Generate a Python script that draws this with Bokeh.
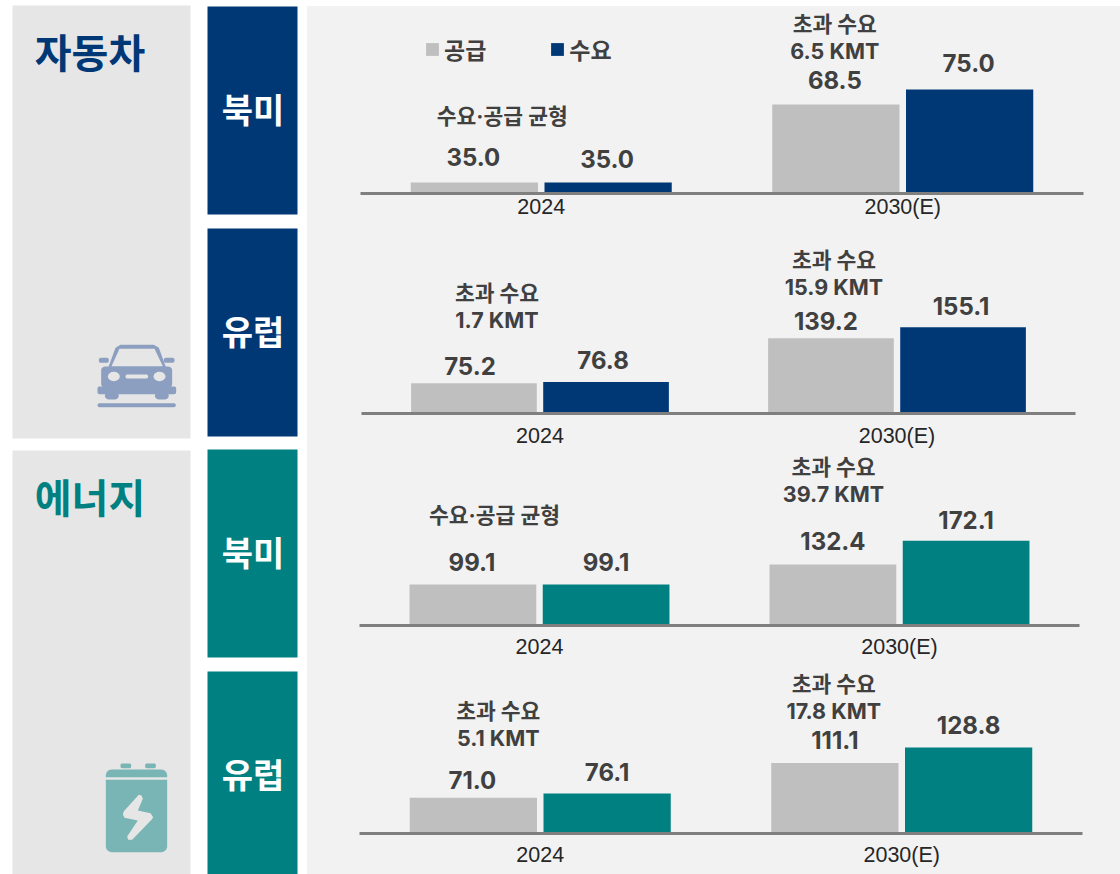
from bokeh.plotting import figure
from bokeh.layouts import row, column
from bokeh.models import ColumnDataSource, FactorRange, Range1d, Legend, LegendItem
from bokeh.transform import dodge
from bokeh.core.properties import value
from bokeh.embed import file_html
from bokeh.resources import INLINE
import numpy as np

# ---------- data ----------
years = ["2024", "2030(E)"]
series_names = ["공급", "수요"]
supply_auto_na = [35.0, 68.5]
demand_auto_na = [35.0, 75.0]
supply_auto_eu = [75.2, 139.2]
demand_auto_eu = [76.8, 155.1]
supply_ess_na = [99.1, 132.4]
demand_ess_na = [99.1, 172.1]
supply_ess_eu = [71.0, 111.1]
demand_ess_eu = [76.1, 128.8]
notes_auto_na = [["수요·공급 균형"], ["초과 수요", "6.5 KMT"]]
notes_auto_eu = [["초과 수요", "1.7 KMT"], ["초과 수요", "15.9 KMT"]]
notes_ess_na = [["수요·공급 균형"], ["초과 수요", "39.7 KMT"]]
notes_ess_eu = [["초과 수요", "5.1 KMT"], ["초과 수요", "17.8 KMT"]]

# ---------- styles / layout ----------
NAVY, TEAL, GREY = "#003876", "#008080", "#bfbfbf"
PANEL, SIDE = "#f2f2f2", "#e6e6e6"
INK = "#404040"
FONT = value("Inter, 'Noto Sans CJK KR', sans-serif")
HFONT = value("'Noto Sans CJK KR', sans-serif")
BAR_W, BAR_OFF = 0.352, 0.185


def make_panel(supply, demand, notes, color, height, left, right, bottom_px, standoff, start, end,
               sup_off, dem_off, sup_dx, dem_dx, note_pos, legend=False):
    p = figure(width=813, height=height, x_range=FactorRange(factors=years),
               y_range=Range1d(start, end), output_backend="svg",
               toolbar_location=None, y_axis_location=None,
               min_border_left=left, min_border_right=right,
               min_border_top=0, min_border_bottom=bottom_px,
               background_fill_color=PANEL, border_fill_color=PANEL,
               outline_line_color=None)
    p.grid.visible = False
    ax = p.xaxis[0]
    ax.axis_line_color = "#7f7f7f"
    ax.axis_line_width = 3
    ax.major_tick_line_color = None
    ax.minor_tick_line_color = None
    ax.major_label_standoff = standoff
    ax.major_label_text_font = "Liberation Sans"
    ax.major_label_text_font_size = "21.5px"
    ax.major_label_text_color = "#262626"

    src = ColumnDataSource(dict(year=years, supply=supply, demand=demand,
                                sl=[f"{v:.1f}" for v in supply],
                                dl=[f"{v:.1f}" for v in demand],
                                so=sup_off, do=dem_off, sx=sup_dx, dx=dem_dx))
    r1 = p.vbar(x=dodge("year", -BAR_OFF, range=p.x_range), top="supply", bottom=start,
                width=BAR_W, fill_color=GREY, line_color=None, source=src)
    r2 = p.vbar(x=dodge("year", BAR_OFF, range=p.x_range), top="demand", bottom=start,
                width=BAR_W, fill_color=color, line_color=None, source=src)
    p.text(x=dodge("year", -BAR_OFF, range=p.x_range), y="supply", text="sl", x_offset="sx", y_offset="so",
           text_align="center", text_baseline="middle", text_color=INK, text_font=FONT,
           text_font_style="bold", text_font_size="24px", source=src)
    p.text(x=dodge("year", BAR_OFF, range=p.x_range), y="demand", text="dl", x_offset="dx", y_offset="do",
           text_align="center", text_baseline="middle", text_color=INK, text_font=FONT,
           text_font_style="bold", text_font_size="24px", source=src)

    xs, ys, ts, xo, yo = [], [], [], [], []
    for yr, lines, (dx, rises) in zip(years, notes, note_pos):
        for line, rise in zip(lines, rises):
            xs.append(yr); ys.append(start); ts.append(line); xo.append(dx); yo.append(-rise)
    p.text(x=xs, y=ys, text=ts, x_offset=xo, y_offset=yo, text_align="center",
           text_baseline="middle", text_color=INK, text_font=FONT, text_font_style="bold",
           text_font_size="21.5px")

    if legend:
        lg = Legend(items=[LegendItem(label=series_names[0], renderers=[r1]),
                           LegendItem(label=series_names[1], renderers=[r2])],
                    orientation="horizontal", location=(64, 127), glyph_width=16, glyph_height=16,
                    label_standoff=4, spacing=63, padding=0, margin=0,
                    background_fill_alpha=0, border_line_color=None,
                    label_text_font="Inter, 'Noto Sans CJK KR', sans-serif", label_text_font_style="bold",
                    label_text_font_size="23px", label_text_color=INK)
        p.add_layout(lg)
    return p


p1 = make_panel(supply_auto_na, demand_auto_na, notes_auto_na, NAVY, 218, 53, 37, 31, -5, 30.3, 110.6,
                [-26, -25], [-24, -26], [-1, -1], [-1, -1],
                [(-39, [78]), (-68, [170, 143])], legend=True)
p2 = make_panel(supply_auto_eu, demand_auto_eu, notes_auto_eu, NAVY, 230, 54, 45, 41, 4, 32, 301.6,
                [-17, -17], [-22, -21], [-4, -5], [-3, -2],
                [(-43, [121, 94]), (-63, [154, 127])])
p3 = make_panel(supply_ess_na, demand_ess_na, notes_ess_na, TEAL, 212, 52, 41, 41, 3, 31, 315.7,
                [-23, -24], [-23, -21], [-1, 0], [0, 0],
                [(-45, [111]), (-66, [159, 132])])
p4 = make_panel(supply_ess_eu, demand_ess_eu, notes_ess_eu, TEAL, 208, 52, 38, 41, 3, 30, 222,
                [-18, -23], [-21, -23], [-1, 0], [0, 0],
                [(-42, [123, 96]), (-68, [150, 123])])
right = column(row(p1), row(p2), row(p3), row(p4), spacing=0, margin=(6, 0, 0, 0))
right.styles = {"background-color": PANEL}


def rrect(x0, y0, x1, y1, r=0.0, top=True, bottom=True):
    t = np.linspace(0, np.pi / 2, 7)
    rt, rb = (r if top else 0), (r if bottom else 0)
    px = list(x1 - rt + rt * np.sin(t)) + list(x1 - rb + rb * np.cos(t)) + list(x0 + rb - rb * np.sin(t)) + list(x0 + rt - rt * np.cos(t))
    py = list(y0 + rt - rt * np.cos(t)) + list(y1 - rb + rb * np.sin(t)) + list(y1 - rb + rb * np.cos(t)) + list(y0 + rt - rt * np.sin(t))
    return px, py


side = figure(width=307, height=874, x_range=Range1d(0, 307), y_range=Range1d(874, 0),
              output_backend="svg", toolbar_location=None, x_axis_location=None,
              y_axis_location=None, min_border=0, background_fill_color="white",
              border_fill_color="white", outline_line_color=None)
side.grid.visible = False
side.quad(left=[12, 12], right=[190, 190], top=[5, 450], bottom=[438, 874], fill_color=SIDE, line_color=None)
side.quad(left=[207] * 4, right=[297] * 4, top=[6, 228, 449, 671], bottom=[214, 436, 657, 874],
          fill_color=[NAVY, NAVY, TEAL, TEAL], line_color=None)
side.text(x=[89.5, 89.5], y=[50, 495], text=["자동차", "에너지"], text_color=[NAVY, TEAL], text_align="center",
          text_baseline="middle", text_font=HFONT, text_font_style="bold", text_font_size="40px")
side.text(x=[252.5] * 4, y=[108, 330, 551, 773], text=["북미", "유럽", "북미", "유럽"], text_color="white",
          text_align="center", text_baseline="middle", text_font=HFONT, text_font_style="bold",
          text_font_size="34px")

# car icon
CAR, BAT = "#8c9fc1", "#7ab5b5"
def cx(v): return np.array(v) / 3
def cy(v): return np.array(v) / 3 + 300
car_parts = [
    rrect(295 / 3, cy(172), 325 / 3, cy(187), 2), rrect(490 / 3, cy(172), 522 / 3, cy(187), 2),
    rrect(302 / 3, cy(198), 515 / 3, cy(262), 4), rrect(291 / 3, cy(258), 527 / 3, cy(281), 2),
    rrect(313 / 3, cy(275), 355 / 3, cy(297), 4), rrect(463 / 3, cy(275), 505 / 3, cy(297), 4),
    rrect(291 / 3, cy(308), 526 / 3, cy(320), 2),
]
side.patches([list(a) for a, b in car_parts], [list(b) for a, b in car_parts], fill_color=CAR, line_color=None)
side.patch(cx([322, 345, 360, 460, 475, 498]), cy([205, 142, 133, 133, 142, 205]), fill_color=CAR, line_color=None)
side.patch(cx([333, 357, 462, 487]), cy([197, 145, 145, 197]), fill_color=SIDE, line_color=None)
side.ellipse(x=cx([340, 477]), y=cy([228, 228]), width=12, height=9.5, fill_color=SIDE, line_color=None)
gx, gy = rrect(375 / 3, cy(222), 443 / 3, cy(234), 2)
side.patch(gx, gy, fill_color=SIDE, line_color=None)

# battery icon
def bx(v): return np.array(v) / 3 + 60
def by(v): return np.array(v) / 3 + 740
bat_parts = [
    rrect(bx(180), by(69), bx(212), by(83), 1.5), rrect(bx(254), by(69), bx(286), by(83), 1.5),
    rrect(bx(136), by(87), bx(320), by(110), 6, bottom=False),
    rrect(bx(136), by(118), bx(320), by(335), 6, top=False),
]
side.patches([list(a) for a, b in bat_parts], [list(b) for a, b in bat_parts], fill_color=BAT, line_color=None)
side.patch(bx([235, 243, 247, 232, 270, 278, 273, 215, 203, 200, 232, 192, 187, 190]),
           by([163, 165, 175, 210, 218, 230, 238, 298, 298, 288, 240, 232, 222, 212]), fill_color=SIDE, line_color=None)

root = row(side, right, spacing=0)
root.styles = {"position": "absolute", "left": "0px", "top": "0px"}
open("out.html", "w").write(file_html(root, INLINE))
